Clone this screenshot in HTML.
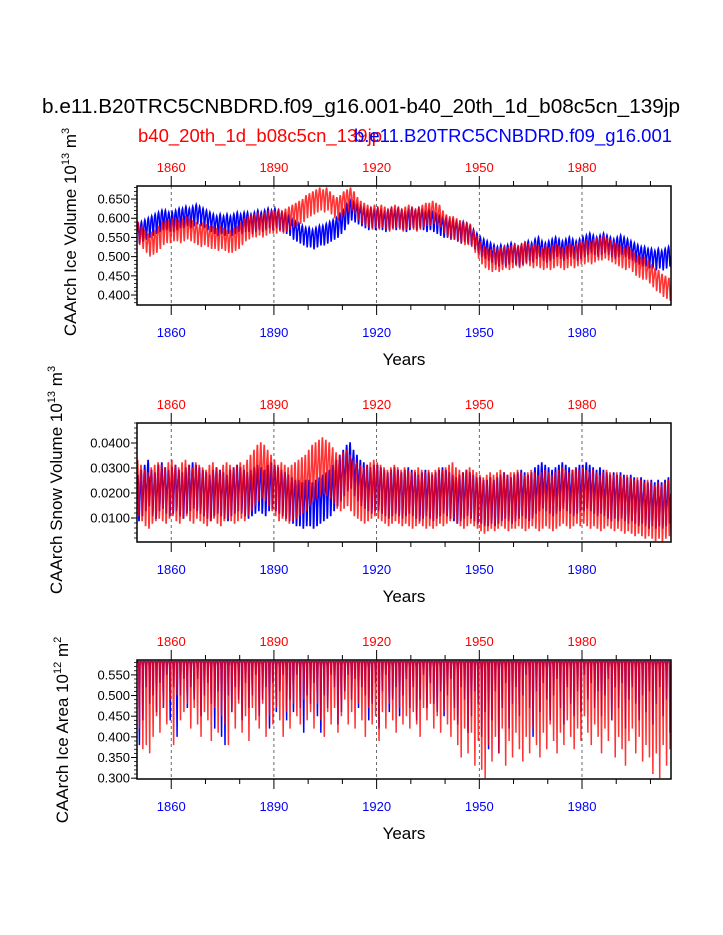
<!DOCTYPE html>
<html><head><meta charset="utf-8">
<style>
html,body{margin:0;padding:0;background:#fff;}
svg{display:block;font-family:"Liberation Sans",Arial,sans-serif;}
</style></head>
<body>
<svg id="chart" width="723" height="935" viewBox="0 0 723 935" xmlns="http://www.w3.org/2000/svg">
<text x="42" y="113" font-size="20.5" fill="#000" textLength="638" lengthAdjust="spacingAndGlyphs">b.e11.B20TRC5CNBDRD.f09_g16.001-b40_20th_1d_b08c5cn_139jp</text>
<text x="138" y="142" font-size="18.5" fill="#f00" textLength="244" lengthAdjust="spacingAndGlyphs">b40_20th_1d_b08c5cn_139jp</text>
<text x="354" y="142" font-size="18.5" fill="#00f" textLength="318" lengthAdjust="spacingAndGlyphs">b.e11.B20TRC5CNBDRD.f09_g16.001</text>
</svg>
<script>
// ---- data ----
const startYear = 1850;
const xTicks = [1860, 1890, 1920, 1950, 1980];
const volTicks = [0.400, 0.450, 0.500, 0.550, 0.600, 0.650];
const snowTicks = [0.0100, 0.0200, 0.0300, 0.0400];
const areaTicks = [0.300, 0.350, 0.400, 0.450, 0.500, 0.550];

const volBlue = [
.560,.565,.570,.575,.580,.585,.590,.595,.595,.590,
.590,.595,.600,.600,.605,.600,.605,.610,.605,.600,
.595,.590,.585,.580,.585,.580,.585,.580,.585,.590,
.585,.590,.590,.585,.590,.595,.590,.595,.600,.595,
.600,.595,.590,.585,.580,.570,.565,.560,.555,.550,
.550,.545,.550,.555,.555,.560,.565,.570,.575,.585,
.595,.610,.620,.615,.610,.605,.600,.595,.600,.595,
.600,.595,.590,.595,.600,.595,.600,.595,.590,.595,
.600,.595,.600,.595,.590,.595,.590,.585,.580,.575,
.575,.570,.570,.565,.560,.565,.560,.555,.545,.535,
.525,.520,.515,.510,.505,.500,.505,.500,.505,.510,
.505,.500,.505,.510,.515,.510,.520,.525,.515,.510,
.515,.520,.525,.520,.515,.520,.525,.520,.515,.520,
.525,.530,.535,.530,.525,.530,.535,.530,.525,.520,
.525,.530,.525,.520,.515,.510,.505,.500,.500,.495,
.495,.490,.495,.490,.495,.500];
const volRed = [
.560,.550,.540,.530,.535,.540,.550,.560,.565,.565,
.570,.570,.565,.570,.575,.570,.565,.560,.555,.560,
.555,.550,.550,.545,.550,.545,.540,.540,.545,.550,
.560,.570,.575,.580,.580,.585,.580,.585,.590,.590,
.590,.595,.590,.595,.600,.605,.610,.615,.620,.630,
.635,.640,.645,.650,.645,.650,.640,.630,.625,.630,
.640,.645,.650,.640,.625,.615,.610,.605,.600,.605,
.600,.605,.600,.595,.600,.605,.600,.595,.600,.605,
.600,.595,.600,.605,.610,.610,.615,.610,.605,.590,
.580,.575,.575,.570,.565,.560,.560,.555,.540,.525,
.510,.500,.495,.490,.495,.490,.495,.500,.495,.500,
.505,.500,.505,.510,.505,.500,.505,.500,.495,.500,
.495,.500,.505,.500,.495,.500,.505,.500,.505,.510,
.510,.515,.510,.515,.520,.520,.525,.520,.515,.510,
.505,.500,.495,.500,.490,.480,.475,.470,.470,.460,
.450,.440,.435,.425,.420,.415];
const volAmpBlue = 0.026, volAmpRed = 0.030;
const volClim = [0.4,0.7,0.9,1,0.9,0.6,0.1,-0.6,-1,-0.8,-0.3,0.1];

const snowBlue = [
.018,.020,.022,.024,.020,.019,.022,.023,.021,.020,
.021,.022,.020,.019,.021,.022,.023,.022,.021,.020,
.019,.018,.020,.021,.020,.019,.018,.020,.021,.022,
.021,.020,.019,.020,.021,.022,.021,.020,.022,.023,
.022,.021,.020,.019,.018,.017,.016,.016,.015,.016,
.016,.015,.016,.017,.018,.019,.020,.022,.024,.026,
.028,.030,.031,.028,.026,.024,.023,.022,.021,.022,
.022,.021,.020,.019,.020,.021,.020,.019,.020,.021,
.020,.019,.018,.019,.020,.019,.018,.019,.020,.021,
.020,.019,.018,.017,.018,.019,.020,.019,.018,.017,
.017,.016,.016,.017,.016,.017,.018,.019,.018,.017,
.018,.019,.020,.019,.018,.019,.021,.022,.023,.022,
.021,.020,.021,.022,.023,.022,.021,.020,.021,.022,
.022,.023,.022,.021,.020,.021,.020,.019,.018,.019,
.018,.019,.018,.017,.018,.017,.016,.017,.016,.015,
.016,.015,.016,.015,.016,.017];
const snowRed = [
.022,.020,.018,.017,.019,.020,.021,.020,.019,.021,
.022,.020,.019,.021,.022,.020,.019,.021,.020,.019,
.018,.020,.021,.019,.018,.020,.021,.020,.019,.020,
.021,.020,.022,.024,.026,.028,.029,.028,.026,.024,
.022,.020,.021,.020,.019,.020,.021,.022,.023,.024,
.026,.028,.029,.030,.031,.030,.029,.027,.025,.024,
.025,.026,.024,.022,.021,.020,.019,.020,.021,.022,
.021,.020,.019,.018,.019,.020,.019,.018,.019,.018,
.017,.018,.019,.018,.017,.018,.017,.018,.019,.018,
.019,.020,.021,.019,.018,.017,.018,.019,.018,.017,
.016,.015,.016,.017,.016,.017,.018,.017,.016,.017,
.017,.018,.017,.016,.017,.018,.017,.016,.017,.018,
.017,.016,.017,.018,.019,.018,.017,.018,.019,.018,
.019,.018,.017,.018,.017,.016,.017,.018,.017,.016,
.017,.016,.015,.016,.015,.014,.015,.014,.013,.014,
.013,.012,.013,.012,.013,.014];
const snowAmpBlue = 0.009, snowAmpRed = 0.011;
const snowClim = [0.5,0.8,1,1,0.7,-0.2,-1,-1,-0.7,-0.2,0.1,0.3];

const areaMax = 0.582;
const areaMinBlue = [
.38,.44,.52,.48,.50,.46,.53,.47,.55,.44,
.52,.40,.50,.54,.47,.52,.49,.54,.45,.50,
.53,.48,.42,.51,.40,.38,.50,.46,.52,.49,
.44,.53,.47,.50,.55,.45,.49,.52,.42,.53,
.46,.51,.55,.44,.49,.46,.55,.47,.41,.50,
.48,.53,.45,.41,.50,.47,.55,.52,.43,.46,
.51,.55,.49,.54,.47,.52,.50,.44,.48,.53,
.42,.51,.55,.46,.49,.52,.45,.50,.54,.47,
.52,.44,.49,.55,.47,.53,.48,.46,.51,.45,
.50,.54,.47,.43,.52,.49,.41,.45,.51,.48,
.40,.46,.37,.44,.51,.36,.47,.53,.42,.48,
.52,.45,.50,.55,.47,.40,.51,.46,.53,.49,
.44,.50,.54,.47,.43,.52,.48,.45,.51,.46,
.55,.49,.53,.47,.51,.45,.50,.54,.44,.52,
.47,.53,.42,.49,.52,.48,.44,.50,.46,.51,
.43,.48,.52,.45,.49,.41];
const areaMinRed = [
.42,.37,.38,.36,.40,.45,.41,.47,.43,.49,
.38,.50,.44,.46,.48,.42,.47,.43,.40,.46,
.44,.39,.47,.41,.45,.43,.38,.46,.42,.48,
.41,.45,.39,.47,.44,.42,.48,.40,.45,.43,
.47,.44,.40,.46,.42,.48,.45,.43,.49,.44,
.46,.42,.48,.44,.40,.46,.43,.47,.41,.45,
.49,.43,.46,.42,.48,.44,.40,.47,.43,.45,
.39,.46,.42,.48,.44,.41,.47,.43,.45,.42,
.46,.43,.40,.47,.44,.48,.42,.45,.41,.46,
.43,.40,.44,.38,.35,.42,.36,.41,.33,.39,
.32,.30,.38,.34,.40,.36,.42,.33,.39,.35,
.41,.37,.34,.40,.36,.42,.38,.35,.41,.37,
.43,.39,.36,.41,.38,.44,.40,.37,.42,.39,
.45,.41,.38,.43,.40,.36,.42,.39,.44,.35,
.40,.37,.33,.39,.42,.36,.40,.34,.38,.35,
.31,.36,.30,.38,.33,.37];
const areaClim = [0,0,0,0,0,0,0.1,0.6,1,0.5,0.05,0];

// ---- drawing ----
const NS = 'http://www.w3.org/2000/svg';
const svg = document.getElementById('chart');
const X0 = 137, X1 = 671;
const yearEnd = 2006;
const xs = t => X0 + (t - startYear) / (yearEnd - startYear) * (X1 - X0);

function mk(tag, attrs, parent) {
  const e = document.createElementNS(NS, tag);
  for (const k in attrs) e.setAttribute(k, attrs[k]);
  (parent || svg).appendChild(e);
  return e;
}

function seriesPoints(n, valFn) {
  const pts = [];
  for (let i = 0; i < n; i++) {
    for (let m = 0; m < 12; m++) {
      pts.push(xs(startYear + i + (m + 0.5) / 12).toFixed(2) + ',' + valFn(i, m).toFixed(2));
    }
  }
  return pts.join(' ');
}

function panel(opt) {
  const {key, top, bot, vmin, vmax, ticks, minorStep, fmt, ytitle, ytitleX, ytitleY, sup, blueFn, redFn} = opt;
  const ys = v => bot - (v - vmin) / (vmax - vmin) * (bot - top);
  const g = mk('g', {});
  
  
  const cid = 'clip-' + key;
  const cp = mk('clipPath', {id: cid}, g);
  mk('rect', {x: X0, y: top, width: X1 - X0, height: bot - top}, cp);
  xTicks.forEach(t => {
    const l = mk('line', {x1: xs(t), x2: xs(t), y1: top, y2: bot, stroke: '#444', 'stroke-width': 0.8, 'stroke-dasharray': '3,3'}, g);
    
    
  });
  const blue = mk('polyline', {points: seriesPoints(blueFn.n, (i, m) => ys(blueFn.f(i, m))), fill: 'none', stroke: '#00f', 'stroke-width': 1.5, 'clip-path': 'url(#' + cid + ')'}, g);
  
  
  const red = mk('polyline', {points: seriesPoints(redFn.n, (i, m) => ys(redFn.f(i, m))), fill: 'none', stroke: '#f00', 'stroke-opacity': 0.8, 'stroke-width': 1.5, 'clip-path': 'url(#' + cid + ')'}, g);
  
  
  const fr = mk('rect', {x: X0, y: top, width: X1 - X0, height: bot - top, fill: 'none', stroke: '#000', 'stroke-width': 1.5}, g);
  
  
  for (let t = 1860; t <= 2000; t += 10) {
    const major = xTicks.includes(t);
    const len = major ? 10 : 5;
    mk('line', {x1: xs(t), x2: xs(t), y1: top, y2: top - len, stroke: '#000', 'stroke-width': 1}, g);
    mk('line', {x1: xs(t), x2: xs(t), y1: bot, y2: bot + len, stroke: '#000', 'stroke-width': 1}, g);
  }
  xTicks.forEach(t => {
    const a = mk('text', {x: xs(t), y: top - 14, 'font-size': 13, fill: '#f00', 'text-anchor': 'middle'}, g);
    a.textContent = t;
    
    
    const b = mk('text', {x: xs(t), y: bot + 32, 'font-size': 13, fill: '#00f', 'text-anchor': 'middle'}, g);
    b.textContent = t;
    
    
  });
  const xt = mk('text', {x: 404, y: bot + 60, 'font-size': 17, fill: '#000', 'text-anchor': 'middle'}, g);
  xt.textContent = 'Years';
  
  
  const nMinor = Math.round((vmax - vmin) / minorStep);
  for (let k = 0; k <= nMinor; k++) {
    const v = Math.ceil(vmin / minorStep) * minorStep + k * minorStep;
    if (v > vmax || v < vmin) continue;
    mk('line', {x1: X0, x2: X0 - 3, y1: ys(v), y2: ys(v), stroke: '#000', 'stroke-width': 0.8}, g);
  }
  ticks.forEach(v => {
    mk('line', {x1: X0, x2: X0 - 6, y1: ys(v), y2: ys(v), stroke: '#000', 'stroke-width': 1}, g);
    const tl = mk('text', {x: X0 - 7, y: ys(v) + 4.5, 'font-size': 13, fill: '#000', 'text-anchor': 'end'}, g);
    tl.textContent = fmt(v);
    
    
  });
  const yt = mk('text', {x: ytitleX, y: ytitleY, 'font-size': 17, fill: '#000', 'text-anchor': 'middle', transform: 'rotate(-90 ' + ytitleX + ' ' + ytitleY + ')'}, g);
  yt.innerHTML = ytitle + ' 10<tspan font-size="11" dy="-7">' + sup[0] + '</tspan><tspan dy="7"> m</tspan><tspan font-size="11" dy="-7">' + sup[1] + '</tspan>';
  
  
}

panel({key: 'ice-volume', top: 186, bot: 305, vmin: 0.374, vmax: 0.684, ticks: volTicks, minorStep: 0.01,
  fmt: v => v.toFixed(3), ytitle: 'CAArch Ice Volume', ytitleX: 76, ytitleY: 232, sup: ['13', '3'],
  blueFn: {n: volBlue.length, f: (i, m) => volBlue[i] + volAmpBlue * volClim[m]},
  redFn: {n: volRed.length, f: (i, m) => volRed[i] + volAmpRed * volClim[(m + 11) % 12]}});

panel({key: 'snow-volume', top: 423, bot: 542, vmin: 0.0004, vmax: 0.048, ticks: snowTicks, minorStep: 0.002,
  fmt: v => v.toFixed(4), ytitle: 'CAArch Snow Volume', ytitleX: 62, ytitleY: 480, sup: ['13', '3'],
  blueFn: {n: snowBlue.length, f: (i, m) => snowBlue[i] + snowAmpBlue * snowClim[m]},
  redFn: {n: snowRed.length, f: (i, m) => snowRed[i] + snowAmpRed * snowClim[(m + 1) % 12]}});

panel({key: 'ice-area', top: 660, bot: 779, vmin: 0.298, vmax: 0.586, ticks: areaTicks, minorStep: 0.01,
  fmt: v => v.toFixed(3), ytitle: 'CAArch Ice Area', ytitleX: 68, ytitleY: 730, sup: ['12', '2'],
  blueFn: {n: areaMinBlue.length, f: (i, m) => areaMax - areaClim[m] * (areaMax - areaMinBlue[i])},
  redFn: {n: areaMinRed.length, f: (i, m) => areaMax - areaClim[m] * (areaMax - areaMinRed[i])}});
</script>
</body></html>
